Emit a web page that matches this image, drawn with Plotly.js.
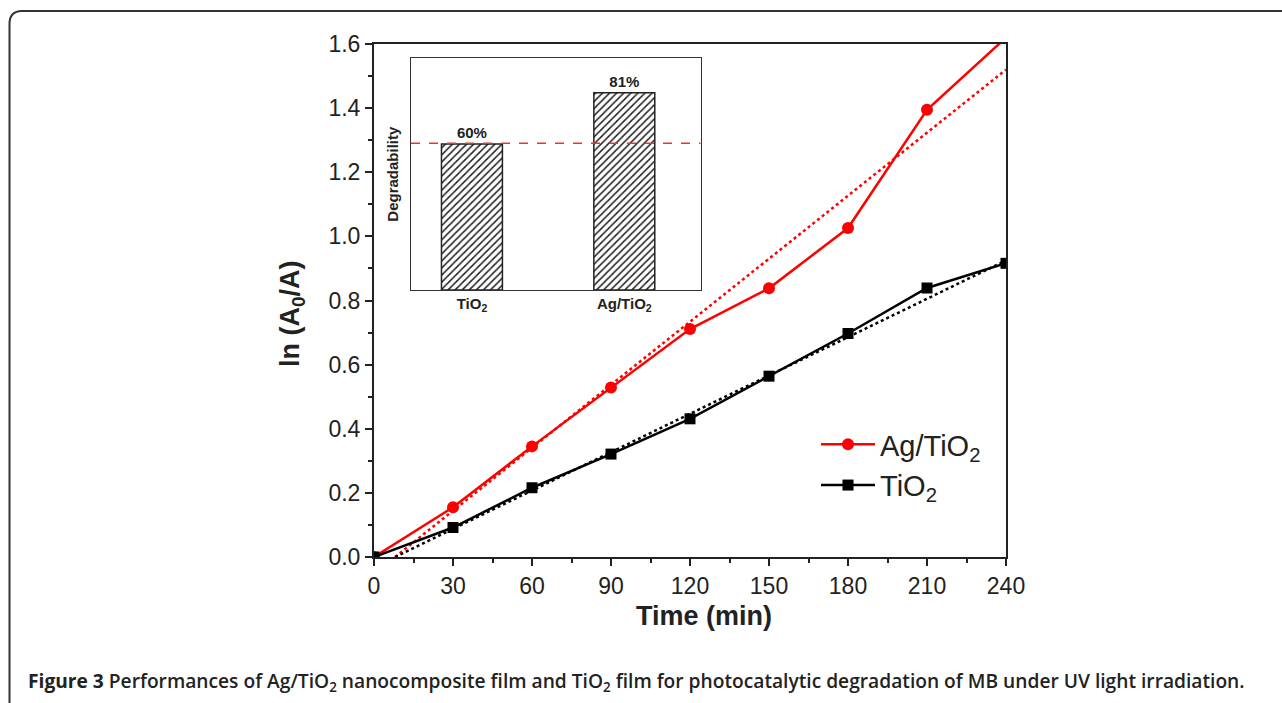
<!DOCTYPE html>
<html>
<head>
<meta charset="utf-8">
<script src="https://cdn.plot.ly/plotly-3.0.1.min.js"></script>
<style>
  html, body { margin: 0; padding: 0; background: #fff; }
  #chart { width: 1282px; height: 703px; }
</style>
</head>
<body>
<div id="chart"></div>
<script>
// ---- Data ----
const time = [0, 30, 60, 90, 120, 150, 180, 210, 240];
const agTiO2 = [0, 0.155, 0.345, 0.529, 0.711, 0.838, 1.026, 1.395, 1.62];
const tio2 = [0, 0.092, 0.216, 0.321, 0.431, 0.564, 0.697, 0.839, 0.916];
const fitTime = [8, 240];
const agTiO2Fit = [0, 1.52];
const tio2Fit = [0, 0.925];

const insetCategories = ['TiO<sub>2</sub>', 'Ag/TiO<sub>2</sub>'];
const degradability = [60, 81];
const degradabilityLabels = ['60%', '81%'];
const referenceLevel = 60.3;

const xTickVals = [0, 30, 60, 90, 120, 150, 180, 210, 240];
const yTickVals = [0, 0.2, 0.4, 0.6, 0.8, 1.0, 1.2, 1.4, 1.6];
const yTickText = ['0.0', '0.2', '0.4', '0.6', '0.8', '1.0', '1.2', '1.4', '1.6'];

// ---- Layout helpers (pixel -> paper) ----
const PL = 374, PR = 1006, PT = 44, PB = 557;
const fx = p => (p - PL) / (PR - PL);
const fy = p => (PB - p) / (PB - PT);

const RED = '#ff0000';
const BLK = '#000000';
const FONT = 'Liberation Sans, Arial, sans-serif';

const traces = [
  {
    x: fitTime, y: agTiO2Fit, type: 'scatter', mode: 'lines',
    line: { color: RED, width: 2.5, dash: 'dot' }, showlegend: false, hoverinfo: 'skip'
  },
  {
    x: fitTime, y: tio2Fit, type: 'scatter', mode: 'lines',
    line: { color: BLK, width: 2.5, dash: 'dot' }, showlegend: false, hoverinfo: 'skip'
  },
  {
    x: time, y: agTiO2, type: 'scatter', mode: 'lines+markers', name: 'Ag/TiO<sub>2</sub>',
    line: { color: RED, width: 2.5 }, marker: { symbol: 'circle', size: 12, color: RED },
    cliponaxis: true
  },
  {
    x: time, y: tio2, type: 'scatter', mode: 'lines+markers', name: 'TiO<sub>2</sub>',
    line: { color: BLK, width: 2.5 }, marker: { symbol: 'square', size: 11, color: BLK },
    cliponaxis: true
  },
  {
    x: insetCategories, y: degradability, type: 'bar', xaxis: 'x2', yaxis: 'y2',
    width: 0.4, showlegend: false,
    text: degradabilityLabels, textposition: 'outside', cliponaxis: false,
    textfont: { family: FONT, size: 15, color: '#222', weight: 'bold' },
    marker: {
      color: '#ffffff',
      line: { color: '#222', width: 1.5 },
      pattern: { shape: '/', fgcolor: '#222', bgcolor: '#ffffff', size: 5, solidity: 0.3 }
    }
  }
];

const layout = {
  width: 1282, height: 703,
  margin: { l: PL, r: 1282 - PR, t: PT, b: 703 - PB, pad: 0 },
  paper_bgcolor: '#ffffff', plot_bgcolor: '#ffffff',
  font: { family: FONT, color: '#222' },
  showlegend: true,
  legend: {
    x: fx(816), y: fy(419), xanchor: 'left', yanchor: 'top',
    bgcolor: 'rgba(0,0,0,0)', borderwidth: 0,
    font: { family: FONT, size: 29, color: '#222' },
    itemwidth: 54, tracegroupgap: 0
  },
  xaxis: {
    range: [0, 240], domain: [0, 1],
    tickmode: 'array', tickvals: xTickVals,
    ticks: 'outside', ticklen: 7, tickwidth: 2, tickcolor: '#222',
    minor: { dtick: 15, ticks: 'outside', ticklen: 4, tickwidth: 2, tickcolor: '#222' },
    showline: true, linecolor: '#222', linewidth: 2, mirror: true,
    showgrid: false, zeroline: false,
    tickfont: { family: FONT, size: 23, color: '#222' },
    automargin: false
  },
  yaxis: {
    range: [0, 1.6], domain: [0, 1],
    tickmode: 'array', tickvals: yTickVals, ticktext: yTickText,
    ticks: 'outside', ticklen: 7, tickwidth: 2, tickcolor: '#222',
    minor: { dtick: 0.1, ticks: 'outside', ticklen: 4, tickwidth: 2, tickcolor: '#222' },
    showline: true, linecolor: '#222', linewidth: 2, mirror: true,
    showgrid: false, zeroline: false,
    tickfont: { family: FONT, size: 23, color: '#222' },
    automargin: false
  },
  xaxis2: {
    domain: [fx(411), fx(700.5)], anchor: 'y2',
    type: 'category', range: [-0.4, 1.5],
    showline: true, linecolor: '#333', linewidth: 1, mirror: true,
    ticks: '', showgrid: false, zeroline: false,
    tickfont: { family: FONT, size: 15, color: '#222', weight: 'bold' }
  },
  yaxis2: {
    domain: [fy(290), fy(58.3)], anchor: 'x2',
    range: [0, 95.2],
    showline: true, linecolor: '#333', linewidth: 1, mirror: true,
    ticks: '', showticklabels: false, showgrid: false, zeroline: false,
    title: { text: '<b>Degradability</b>', font: { family: FONT, size: 15, color: '#222' }, standoff: 7 }
  },
  shapes: [
    // dashed reference line in inset
    {
      type: 'line', xref: 'x2 domain', yref: 'y2', x0: 0, x1: 1, y0: referenceLevel, y1: referenceLevel,
      line: { color: '#e8362b', width: 1.5, dash: 'dash' }, layer: 'above'
    },
    // figure border (open at right and bottom)
    {
      type: 'path', xref: 'paper', yref: 'paper',
      path: 'M ' + fx(9.5) + ' ' + fy(710) + ' L ' + fx(9.5) + ' ' + fy(24) +
            ' Q ' + fx(9.5) + ' ' + fy(11) + ' ' + fx(22) + ' ' + fy(11) +
            ' L ' + fx(1290) + ' ' + fy(11),
      line: { color: '#333', width: 2 }
    }
  ],
  annotations: [
    // x-axis title
    {
      xref: 'paper', yref: 'paper', x: fx(704), y: fy(616), xanchor: 'center', yanchor: 'middle',
      showarrow: false, text: '<b>Time (min)</b>',
      font: { family: FONT, size: 27, color: '#222' }
    },
    // y-axis title
    {
      xref: 'paper', yref: 'paper', x: fx(292), y: fy(314), xanchor: 'center', yanchor: 'middle',
      showarrow: false, textangle: -90, text: '<b>ln (A<sub>0</sub>/A)</b>',
      font: { family: FONT, size: 27, color: '#222' }
    },
    // caption
    {
      xref: 'paper', yref: 'paper', x: fx(26), y: fy(681), xanchor: 'left', yanchor: 'middle',
      showarrow: false,
      text: '<b>Figure 3</b> Performances of Ag/TiO<sub>2</sub> nanocomposite film and TiO<sub>2</sub> film for photocatalytic degradation of MB under UV light irradiation.',
      font: { family: 'Open Sans, Noto Sans, sans-serif', size: 19.2, color: '#222', weight: 600 }
    }
  ]
};

Plotly.newPlot('chart', traces, layout, { displayModeBar: false, staticPlot: true });
</script>
</body>
</html>
